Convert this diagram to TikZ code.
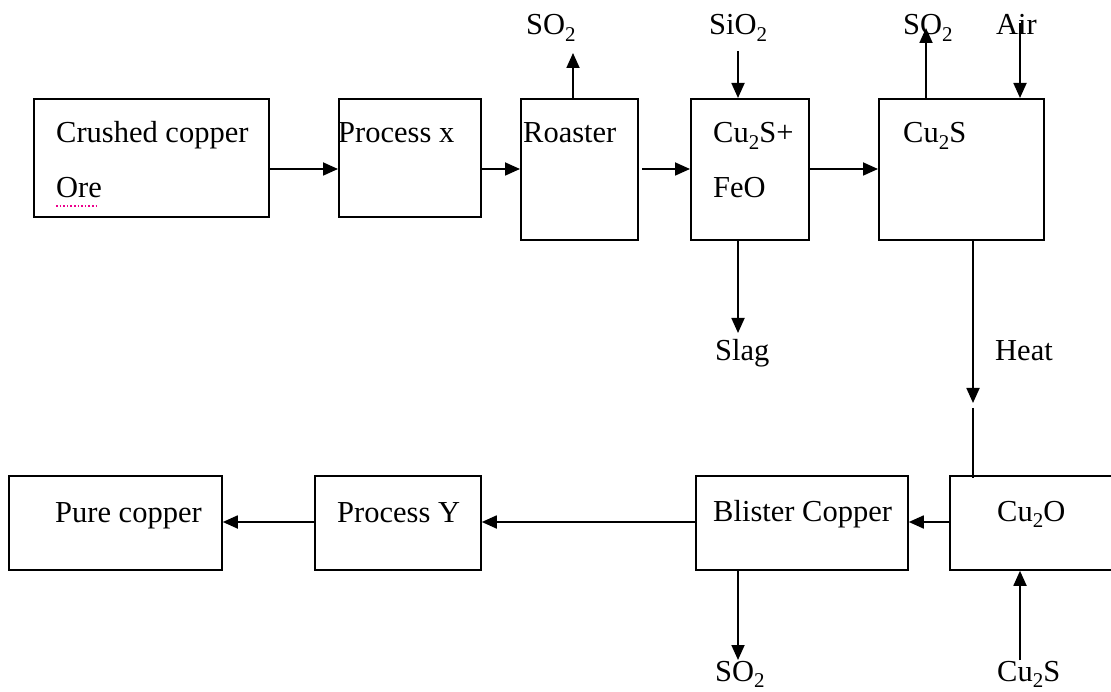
\documentclass[tikz,border=0pt]{standalone}
\usepackage{fontspec}
\setmainfont{Liberation Serif}
\usetikzlibrary{arrows.meta}
\newcommand\dsub[1]{\raisebox{-0.2em}{\fontsize{21}{21}\selectfont #1}}
\begin{document}
\begin{tikzpicture}[x=1pt,y=-1pt,
  box/.style={draw=black,line width=1.8pt,fill=none},
  lbl/.style={anchor=base west,inner sep=0pt,font=\fontsize{30.5}{36}\selectfont},
  arr/.style={line width=1.8pt,-{Triangle[length=15pt,width=13pt]}},
  ln/.style={line width=1.8pt}]
\useasboundingbox[fill=white] (0,0) rectangle (1111,692);
% boxes
\node[box,minimum width=235pt,minimum height=118pt,anchor=north west] (b1) at (33,98) {};
\node[box,minimum width=142pt,minimum height=118pt,anchor=north west] (b2) at (338,98) {};
\node[box,minimum width=117pt,minimum height=141pt,anchor=north west] (b3) at (520,98) {};
\node[box,minimum width=118pt,minimum height=141pt,anchor=north west] (b4) at (690,98) {};
\node[box,minimum width=165pt,minimum height=141pt,anchor=north west] (b5) at (878,98) {};
\node[box,minimum width=213pt,minimum height=94pt,anchor=north west] (b6) at (8,475) {};
\node[box,minimum width=166pt,minimum height=94pt,anchor=north west] (b7) at (314,475) {};
\node[box,minimum width=212pt,minimum height=94pt,anchor=north west] (b8) at (695,475) {};
\node[box,minimum width=180pt,minimum height=94pt,anchor=north west] (b9) at (949,475) {};
% texts
\node[lbl] (t1) at (56,143) {Crushed copper};
\node[lbl] (t1b) at (56,198) {Ore};
\draw[magenta,line width=1.6pt,dotted] (t1b.base west) ++(0,8) coordinate (u1) -- ++(42,0) coordinate (u2);
\node[lbl] (t2) at (338,143) {Process x};
\node[lbl] (t3) at (523,143) {Roaster};
\node[lbl] (t4) at (713,143) {Cu\dsub{2}S+};
\node[lbl] (t4b) at (713,198) {FeO};
\node[lbl] (t5) at (903,143) {Cu\dsub{2}S};
\node[lbl] (s1) at (526,35) {SO\dsub{2}};
\node[lbl] (s2) at (709,35) {SiO\dsub{2}};
\node[lbl] (s3) at (903,35) {SO\dsub{2}};
\node[lbl] (s4) at (996,35) {Air};
\node[lbl] (s5) at (715,361) {Slag};
\node[lbl] (s6) at (995,361) {Heat};
\node[lbl] (t6) at (55,522) {Pure copper};
\node[lbl] (t7) at (337,522) {Process Y};
\node[lbl] (t8) at (713,521) {Blister Copper};
\node[lbl] (t9) at (997,521) {Cu\dsub{2}O};
\node[lbl] (s7) at (715,681) {SO\dsub{2}};
\node[lbl] (s8) at (997,681) {Cu\dsub{2}S};
% coordinates
\coordinate (r1) at (0,169);
\coordinate (r2) at (0,522);
\coordinate (c3s) at (642,169);
\coordinate (p1) at (573,53);
\coordinate (p2) at (738,51);
\coordinate (p3) at (926,28);
\coordinate (p4) at (1020,23);
\coordinate (p5) at (738,333);
\coordinate (p6) at (973,403);
\coordinate (p7) at (973,408);
\coordinate (p8) at (738,660);
\coordinate (p9) at (1020,660);
% connectors
\draw[arr] (b1.east |- r1) -- (b2.west |- r1);
\draw[arr] (b2.east |- r1) -- (b3.west |- r1);
\draw[arr] (c3s) -- (b4.west |- r1);
\draw[arr] (b4.east |- r1) -- (b5.west |- r1);
\draw[arr] (b3.north -| p1) -- (p1);
\draw[arr] (p2) -- (b4.north -| p2);
\draw[arr] (b5.north -| p3) -- (p3);
\draw[arr] (p4) -- (b5.north -| p4);
\draw[arr] (b4.south -| p5) -- (p5);
\draw[arr] (b5.south -| p6) -- (p6);
\draw[ln] (p7) -- ([yshift=-3pt]b9.north -| p7);
\draw[arr] (b9.west |- r2) -- (b8.east |- r2);
\draw[arr] (b8.west |- r2) -- (b7.east |- r2);
\draw[arr] (b7.west |- r2) -- (b6.east |- r2);
\draw[arr] (b8.south -| p8) -- (p8);
\draw[arr] (p9) -- (b9.south -| p9);
\end{tikzpicture}
\end{document}
